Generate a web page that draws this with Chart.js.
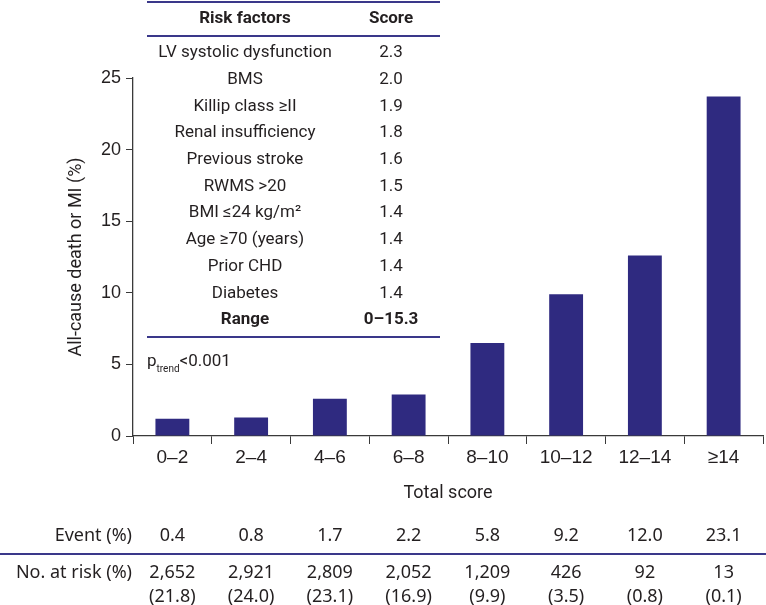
<!DOCTYPE html>
<html>
<head>
<meta charset="utf-8">
<script src="https://cdn.jsdelivr.net/npm/chart.js@4"></script>
<style>
  html, body { margin: 0; padding: 0; background: #fff; }
  canvas { display: block; }
</style>
</head>
<body>
<canvas id="chart" width="766" height="605"></canvas>
<script>
// dados
const scoreGroups = ['0–2', '2–4', '4–6', '6–8', '8–10', '10–12', '12–14', '≥14'];
const deathOrMI = [1.2, 1.3, 2.6, 2.9, 6.5, 9.9, 12.6, 23.7];
const yTicks = [0, 5, 10, 15, 20, 25];

const eventPct = ['0.4', '0.8', '1.7', '2.2', '5.8', '9.2', '12.0', '23.1'];
const atRiskN = ['2,652', '2,921', '2,809', '2,052', '1,209', '426', '92', '13'];
const atRiskPct = ['(21.8)', '(24.0)', '(23.1)', '(16.9)', '(9.9)', '(3.5)', '(0.8)', '(0.1)'];

const riskFactors = ['LV systolic dysfunction', 'BMS', 'Killip class ≥II', 'Renal insufficiency',
    'Previous stroke', 'RWMS >20', 'BMI ≤24 kg/m²', 'Age ≥70 (years)', 'Prior CHD', 'Diabetes'];
const riskScores = ['2.3', '2.0', '1.9', '1.8', '1.6', '1.5', '1.4', '1.4', '1.4', '1.4'];
const scoreRange = '0–15.3';

const navy = '#2f2a80';
const lineNavy = '#3a388a';
const textColor = '#231f20';
const axisColor = '#3a3a3a';

// tabela, titulos e linhas de baixo
const extras = {
    id: 'extras',
    afterDraw(chart) {
        const ctx = chart.ctx;
        const area = chart.chartArea;
        const x = chart.scales.x;
        ctx.save();
        ctx.fillStyle = textColor;
        ctx.textBaseline = 'middle';

        // tabela de fatores de risco
        ctx.strokeStyle = lineNavy;
        ctx.lineWidth = 2;
        [2, 36, 337].forEach(y => {
            ctx.beginPath();
            ctx.moveTo(147, y);
            ctx.lineTo(440, y);
            ctx.stroke();
        });
        ctx.textAlign = 'center';
        ctx.font = 'bold 17px Roboto';
        ctx.fillText('Risk factors', 245, 19);
        ctx.fillText('Score', 391, 19);
        ctx.font = '17px Roboto';
        riskFactors.forEach((name, i) => {
            const y = 53 + i * 26.7;
            ctx.fillText(name, 245, y);
            ctx.fillText(riskScores[i], 391, y);
        });
        ctx.font = 'bold 17px Roboto';
        ctx.fillText('Range', 245, 320);
        ctx.fillText(scoreRange, 391, 320);

        // p trend
        ctx.textAlign = 'left';
        ctx.textBaseline = 'alphabetic';
        ctx.font = '17px Roboto';
        ctx.fillText('p', 147, 366);
        let px = 147 + ctx.measureText('p').width;
        ctx.font = '10px Roboto';
        ctx.fillText('trend', px, 372);
        px += ctx.measureText('trend').width;
        ctx.font = '17px Roboto';
        ctx.fillText('<0.001', px, 366);

        // titulo do eixo y
        ctx.textBaseline = 'middle';
        ctx.textAlign = 'center';
        ctx.font = '18px Roboto';
        ctx.save();
        ctx.translate(76, (area.top + area.bottom) / 2);
        ctx.rotate(-Math.PI / 2);
        ctx.fillText('All-cause death or MI (%)', 0, 0);
        ctx.restore();

        // titulo do eixo x
        ctx.fillText('Total score', (area.left + area.right) / 2, 493);

        // linhas Event / No. at risk
        ctx.font = '18px "Noto Sans"';
        ctx.textAlign = 'right';
        ctx.fillText('Event (%)', 132, 536);
        ctx.fillText('No. at risk (%)', 132, 573);
        ctx.textAlign = 'center';
        scoreGroups.forEach((g, i) => {
            const cx = x.getPixelForValue(i);
            ctx.fillText(eventPct[i], cx, 536);
            ctx.fillText(atRiskN[i], cx, 573);
            ctx.fillText(atRiskPct[i], cx, 597);
        });
        ctx.strokeStyle = lineNavy;
        ctx.lineWidth = 2;
        ctx.beginPath();
        ctx.moveTo(0, 554);
        ctx.lineTo(766, 554);
        ctx.stroke();
        ctx.restore();
    }
};

new Chart(document.getElementById('chart'), {
    type: 'bar',
    data: {
        labels: scoreGroups,
        datasets: [{
            data: deathOrMI,
            backgroundColor: navy,
            borderWidth: 0,
            categoryPercentage: 1,
            barPercentage: 0.43
        }]
    },
    options: {
        responsive: false,
        animation: false,
        layout: { padding: { top: 78, right: 3, left: 0, bottom: 0 } },
        plugins: {
            legend: { display: false },
            tooltip: { enabled: false }
        },
        scales: {
            x: {
                offset: true,
                grid: { offset: true, drawOnChartArea: false, tickLength: 8, color: axisColor },
                border: { color: axisColor, width: 1.3 },
                ticks: {
                    color: textColor, padding: 2, maxRotation: 0, autoSkip: false,
                    font: { family: 'Liberation Sans', size: 19 }
                },
                afterFit: (scale) => { scale.height = 169; }
            },
            y: {
                min: 0,
                max: 25,
                afterBuildTicks: (scale) => { scale.ticks = yTicks.map(v => ({ value: v })); },
                grid: { drawOnChartArea: false, tickLength: 7, color: axisColor },
                border: { color: axisColor, width: 1.3 },
                ticks: {
                    color: textColor, padding: 5,
                    font: { family: 'Liberation Sans', size: 18 }
                },
                afterFit: (scale) => { scale.width = 133; }
            }
        }
    },
    plugins: [extras]
});
</script>
</body>
</html>
